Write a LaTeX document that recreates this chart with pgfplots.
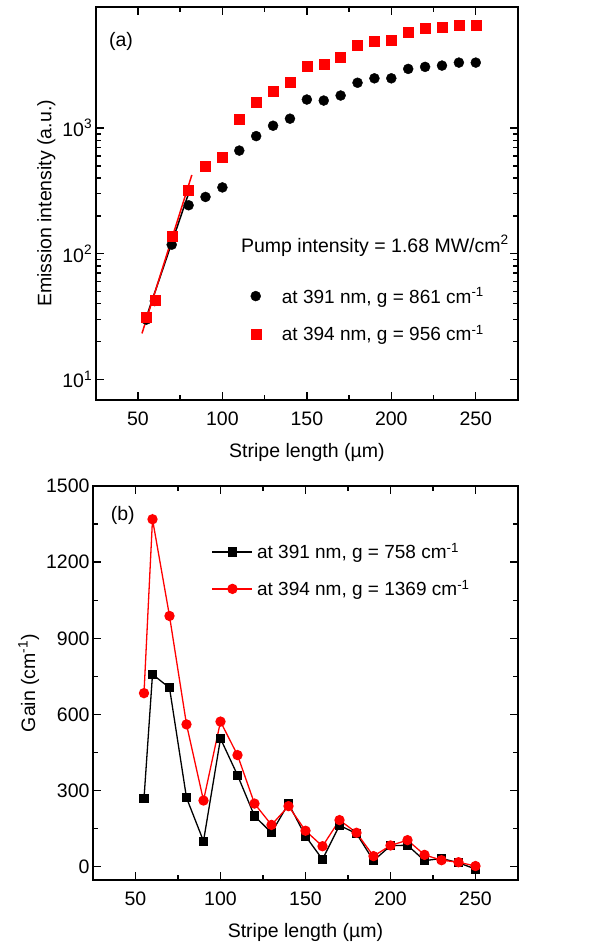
\documentclass[border=0pt]{standalone}
\usepackage{fontspec}
\setmainfont{Liberation Sans}
\usepackage{pgfplots}
\pgfplotsset{compat=1.18}
\definecolor{pred}{RGB}{255,0,0}

\pgfplotsset{
  every axis/.append style={
    scale only axis,
    font=\fontsize{19.5}{23}\selectfont,
    axis line style={line width=1.6pt},
    every tick/.style={line width=1.4pt, black},
    tick align=inside,
    major tick length=8pt,
    minor tick length=5pt,
    xmin=25, xmax=275,
    xtick={50,100,...,250},
    minor x tick num=1,
    xlabel={Stripe length (µm)},
    xticklabel style={yshift=-8pt},
    xlabel style={yshift=-11pt},
    /pgf/number format/assume math mode=true,
    /pgf/number format/1000 sep={},
    legend cell align=left,
    legend style={draw=none, fill=none, nodes={inner sep=2pt},
      font=\fontsize{19}{23}\selectfont},
  },
}

\begin{document}
\begin{tikzpicture}
\path[use as bounding box] (0pt,0pt) rectangle (595pt,947pt);

% (a) emission intensity
\begin{axis}[
  at={(95.7pt,547pt)}, anchor=south west,
  width=422.3pt, height=393pt,
  ymode=log, ymin=6.85, ymax=9200,
  ytick={10,100,1000},
  yticklabels={10\textsuperscript{1},10\textsuperscript{2},10\textsuperscript{3}},
  ylabel={Emission intensity (a.u.)},
  legend style={at={(axis cs:111.8,58)}, anchor=north west, row sep=17pt},
  legend image code/.code={\path (-10pt,0pt) (24pt,0pt);
    \draw[mark repeat=2,mark phase=2,#1] plot coordinates {(-10pt,0pt) (0pt,0pt) (10pt,0pt)};},
]
\addplot[only marks, mark=*, mark size=5pt, black] coordinates {
  (55,29.9) (60,42) (70,118) (80,243) (90,283) (100,337) (110,662)
  (120,863) (130,1044) (140,1188) (150,1687) (160,1656) (170,1816)
  (180,2295) (190,2489) (200,2489) (210,2958) (220,3070) (230,3143)
  (240,3320) (250,3320)};
\addlegendentry{at 391 nm, g = 861 cm\textsuperscript{-1}}
\addplot[only marks, mark=square*, mark size=5pt, pred] coordinates {
  (55,31.4) (60,42.4) (70,137) (80,320) (90,495) (100,582) (110,1173)
  (120,1617) (130,1982) (140,2312) (150,3126) (160,3200) (170,3642)
  (180,4570) (190,4895) (200,5015) (210,5819) (220,6226) (230,6340)
  (240,6580) (250,6580)};
\addlegendentry{at 394 nm, g = 956 cm\textsuperscript{-1}}
\addplot[black, line width=1.5pt, forget plot] coordinates {(53.7,27.8) (80.5,316)};
\addplot[pred, line width=1.5pt, forget plot] coordinates {(52.4,23.2) (81.9,423)};
\node[anchor=base west] at (axis cs:109,103) {Pump intensity = 1.68 MW/cm\textsuperscript{2}};
\node at (axis cs:40,4900) {(a)};
\end{axis}

% (b) gain
\begin{axis}[
  at={(93pt,67pt)}, anchor=south west,
  width=425pt, height=394pt,
  ymin=-52, ymax=1500,
  ytick={0,300,...,1500},
  minor y tick num=1,
  ylabel={Gain (cm\textsuperscript{-1})},
  legend style={at={(axis cs:93,1290)}, anchor=north west, row sep=16pt},
  legend image code/.code={\path (0pt,0pt) (42pt,0pt);
    \draw[mark repeat=2,mark phase=2,#1] plot coordinates {(0pt,0pt) (20pt,0pt) (40pt,0pt)};},
]
\addplot[black, line width=1.3pt, mark=square*, mark size=4pt] coordinates {
  (55,269) (60,758) (70,705) (80,272) (90,101) (100,505) (110,361)
  (120,200) (130,134) (140,249) (150,121) (160,29) (170,163) (180,131)
  (190,24) (200,83) (210,85) (220,24) (230,33) (240,16) (250,-9)};
\addlegendentry{at 391 nm, g = 758 cm\textsuperscript{-1}}
\addplot[pred, line width=1.3pt, mark=*, mark size=4.5pt] coordinates {
  (55,684) (60,1369) (70,988) (80,561) (90,261) (100,572) (110,440)
  (120,249) (130,165) (140,239) (150,142) (160,81) (170,184) (180,134)
  (190,42) (200,84) (210,105) (220,47) (230,26) (240,18) (250,3)};
\addlegendentry{at 394 nm, g = 1369 cm\textsuperscript{-1}}
\node at (axis cs:42.5,1385) {(b)};
\end{axis}
\end{tikzpicture}
\end{document}
